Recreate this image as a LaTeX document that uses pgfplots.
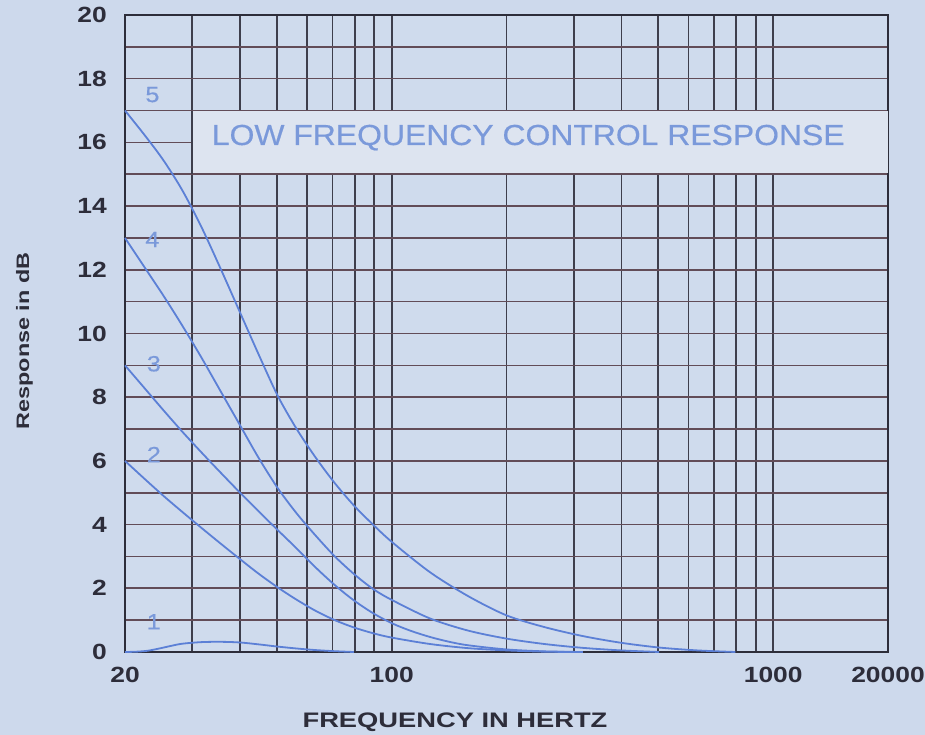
\documentclass[border=0pt]{standalone}
\usepackage{fontspec}
\setmainfont{Liberation Sans}
\usepackage{pgfplots}
\pgfplotsset{compat=1.18}
\newfontfamily\tickfont[FakeStretch=1.2]{Liberation Sans}
\newfontfamily\labfont[FakeStretch=1.3]{Liberation Sans}
\newfontfamily\titlefont[FakeStretch=1.1,FakeBold=0.4]{Liberation Sans}
\newfontfamily\numfont[FakeStretch=1.15,FakeBold=0.4]{Liberation Sans}
\definecolor{bg}{RGB}{205,217,236}
\definecolor{plotbg}{RGB}{207,219,237}
\definecolor{boxbg}{RGB}{221,228,240}
\definecolor{curve}{RGB}{92,128,214}
\definecolor{labelblue}{RGB}{122,153,218}
\definecolor{gridv}{RGB}{62,62,76}
\definecolor{gridh}{RGB}{98,76,88}
\definecolor{txt}{RGB}{45,45,58}
\begin{document}
\begin{tikzpicture}
\useasboundingbox (0,0) rectangle (925pt,735pt);
\fill[bg] (0,0) rectangle (925pt,735pt);
\begin{axis}[
  at={(125pt,83pt)}, anchor=south west,
  scale only axis, width=763pt, height=637pt,
  xmode=log, xmin=20, xmax=2000, ymin=0, ymax=20,
  axis background/.style={fill=plotbg},
  xtick={20,100,1000,2000}, xticklabels={20,100,1000,20000},
  minor xtick={30,40,50,60,70,80,90,200,300,400,500,600,700,800,900},
  ytick={0,2,4,6,8,10,12,14,16,18,20},
  yticklabels={0,2,4,6,8,10,12,14,16,18,20},
  minor ytick={1,3,5,7,9,11,13,15,17,19},
  major tick length=0pt, minor tick length=0pt,
  xmajorgrids, xminorgrids, ymajorgrids, yminorgrids,
  x grid style={gridv, line width=1.7pt},
  y grid style={gridh, line width=1.6pt},
  axis line style={txt, line width=2.6pt},
  ticklabel style={font=\tickfont\bfseries\fontsize{22}{22}\selectfont, text=txt, inner sep=0pt},
  xticklabel style={yshift=-15pt},
  yticklabel style={xshift=-18pt},
  clip=false,
]
% title box
\fill[boxbg] ([xshift=0.9pt,yshift=0.8pt]axis cs:30,15) rectangle ([yshift=-0.8pt]axis cs:2000,17);
\draw[gridv, line width=1.7pt] (axis cs:30,15) -- (axis cs:30,17);
\node[font=\titlefont\fontsize{29}{29}\selectfont, text=labelblue] at (axis cs:228,16.15) {LOW FREQUENCY CONTROL RESPONSE};

% curve 5
\addplot[curve, line width=1.8pt, smooth] coordinates {
(20,17.0) (22.44,16.25) (25.18,15.45) (28.25,14.5) (31.70,13.35) (35.57,12.05)
(39.91,10.7) (44.77,9.35) (50.24,8.05) (56.37,7.0) (63.25,6.1) (70.96,5.3)
(79.62,4.6) (89.34,4.0) (100.24,3.45) (126.19,2.5) (158.87,1.75) (200,1.15)
(251.79,0.78) (316.98,0.5) (399.05,0.29) (502.38,0.14) (632.46,0.05) (796.21,0)
};
% curve 4
\addplot[curve, line width=1.8pt, smooth] coordinates {
(20,13.0) (22.44,12.1) (25.18,11.2) (28.25,10.25) (31.70,9.25) (35.57,8.2)
(39.91,7.15) (44.77,6.1) (50.24,5.15) (56.37,4.35) (63.25,3.65) (70.96,3.0)
(79.62,2.45) (89.34,1.98) (100.24,1.63) (126.19,1.05) (158.87,0.67) (200,0.42)
(251.79,0.25) (316.98,0.13) (399.05,0.05) (502.38,0)
};
% curve 3
\addplot[curve, line width=1.8pt, smooth] coordinates {
(20,9.0) (22.44,8.3) (25.18,7.6) (28.25,6.92) (31.70,6.27) (35.57,5.64)
(39.91,5.02) (44.77,4.42) (50.24,3.83) (56.37,3.25) (63.25,2.65) (70.96,2.1)
(79.62,1.62) (89.34,1.22) (100.24,0.9) (112.47,0.66) (126.19,0.47) (141.59,0.32)
(158.87,0.21) (200,0.08) (251.79,0.02) (316.98,0)
};
% curve 2
\addplot[curve, line width=1.8pt, smooth] coordinates {
(20,6.0) (22.44,5.45) (25.18,4.91) (28.25,4.4) (31.70,3.9) (35.57,3.41)
(39.91,2.93) (44.77,2.46) (50.24,2.03) (56.37,1.64) (63.25,1.29) (70.96,1.0)
(79.62,0.77) (89.34,0.59) (100.24,0.45) (126.19,0.25) (158.87,0.12) (200,0.05)
(251.79,0.01) (316.98,0)
};
% curve 1
\addplot[curve, line width=1.8pt, smooth] coordinates {
(20,0) (21.43,0.01) (22.96,0.04) (24.60,0.11) (26.36,0.19) (28.25,0.26)
(31.70,0.31) (35.57,0.32) (39.91,0.3) (44.77,0.24) (50.24,0.17) (56.37,0.11)
(63.25,0.06) (70.96,0.025) (79.62,0)
};

\begin{scope}[font=\numfont\fontsize{22}{22}\selectfont, text=labelblue]
\node at (axis cs:23.6,17.5) {5};
\node at (axis cs:23.6,12.95) {4};
\node at (axis cs:23.8,9.05) {3};
\node at (axis cs:23.8,6.2) {2};
\node at (axis cs:23.8,0.95) {1};
\end{scope}
\end{axis}
\node[anchor=base, font=\labfont\bfseries\fontsize{21}{21}\selectfont, text=txt] at (455pt,7.5pt) {FREQUENCY IN HERTZ};
\node[anchor=base, rotate=90, font=\labfont\bfseries\fontsize{18}{18}\selectfont, text=txt] at (29pt,394pt) {Response in dB};
\end{tikzpicture}
\end{document}
